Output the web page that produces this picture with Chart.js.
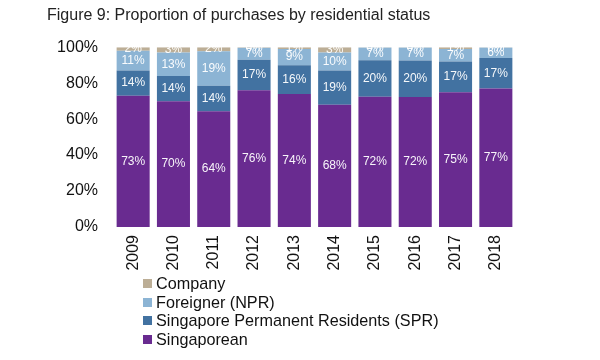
<!DOCTYPE html>
<html>
<head>
<meta charset="utf-8">
<script src="https://cdn.jsdelivr.net/npm/chart.js@4/dist/chart.umd.min.js"></script>
<style>
html,body{margin:0;padding:0;background:#fff;}
#wrap{position:relative;width:600px;height:360px;}
#legend{position:absolute;left:143px;top:274px;font-family:"Liberation Sans",Arial,sans-serif;font-size:16.2px;color:#111;line-height:18.7px;}
#legend div{display:flex;align-items:center;}
#legend span.box{display:inline-block;width:9px;height:9px;margin-right:4px;}
</style>
</head>
<body>
<div id="wrap">
<canvas id="c" width="600" height="360"></canvas>
<div id="legend"></div>
</div>
<script>
const categories = ['2009','2010','2011','2012','2013','2014','2015','2016','2017','2018'];
const singaporean = [73, 70, 64.4, 76, 74, 68, 72.4, 72.3, 75, 77];
const spr = [14, 14, 14.2, 17, 16, 19, 20.4, 20.3, 17, 17];
const npr = [11, 13, 19.2, 6.7, 9, 10, 7, 7.2, 7, 5.8];
const company = [2, 3, 2.2, 0.3, 1, 3, 0.2, 0.2, 1, 0.2];
const yTicks = [0, 20, 40, 60, 80, 100];

const FONT = '"Liberation Sans", Arial, sans-serif';

const labelPlugin = {
  id: 'segLabels',
  afterDatasetsDraw(chart) {
    const ctx = chart.ctx;
    ctx.save();
    ctx.font = '12px ' + FONT;
    ctx.fillStyle = 'rgba(255,255,255,0.95)';
    ctx.textAlign = 'center';
    ctx.textBaseline = 'middle';
    chart.data.datasets.forEach((ds, di) => {
      const meta = chart.getDatasetMeta(di);
      meta.data.forEach((el, i) => {
        const p = el.getProps(['x', 'y', 'base'], true);
        const cy = (p.y + p.base) / 2;
        ctx.fillText(Math.round(ds.data[i]) + '%', p.x, cy);
      });
    });
    ctx.restore();
  }
};

const datasets = [
  {label: 'Singaporean', data: singaporean, backgroundColor: '#692b90'},
  {label: 'Singapore Permanent Residents (SPR)', data: spr, backgroundColor: '#4272a1'},
  {label: 'Foreigner (NPR)', data: npr, backgroundColor: '#8cb4d4'},
  {label: 'Company', data: company, backgroundColor: '#bcae96'}
];

const chart = new Chart(document.getElementById('c'), {
  type: 'bar',
  data: {labels: categories, datasets: datasets.map(d => Object.assign({
    categoryPercentage: 1, barPercentage: 0.82, borderWidth: 0
  }, d))},
  options: {
    responsive: false,
    animation: false,
    devicePixelRatio: 1,
    layout: {padding: {left: 47, right: 84, top: 0, bottom: 0}},
    plugins: {
      legend: {display: false},
      tooltip: {enabled: false},
      title: {
        display: true,
        text: 'Figure 9: Proportion of purchases by residential status',
        align: 'start',
        color: '#222',
        font: {family: FONT, size: 16, weight: 'normal'},
        padding: {top: 6, bottom: 22}
      }
    },
    scales: {
      x: {
        stacked: true,
        grid: {display: false, drawTicks: false},
        border: {display: false},
        ticks: {
          color: '#111', font: {family: FONT, size: 16},
          maxRotation: 90, minRotation: 90, padding: 8, autoSkip: false
        },
        afterFit(s) { s.height = 133; }
      },
      y: {
        stacked: true,
        min: 0, max: 100,
        grid: {display: false, drawTicks: false},
        border: {display: false},
        afterBuildTicks(s) { s.ticks = yTicks.map(v => ({value: v})); },
        ticks: {
          color: '#111', font: {family: FONT, size: 16}, padding: 15,
          callback: v => v + '%'
        },
        afterFit(s) { s.width = 66; }
      }
    }
  },
  plugins: [labelPlugin]
});

// HTML legend (reverse order), built from datasets
const leg = document.getElementById('legend');
datasets.slice().reverse().forEach(d => {
  const row = document.createElement('div');
  const box = document.createElement('span');
  box.className = 'box';
  box.style.background = d.backgroundColor;
  row.appendChild(box);
  row.appendChild(document.createTextNode(d.label));
  leg.appendChild(row);
});
</script>
</body>
</html>
